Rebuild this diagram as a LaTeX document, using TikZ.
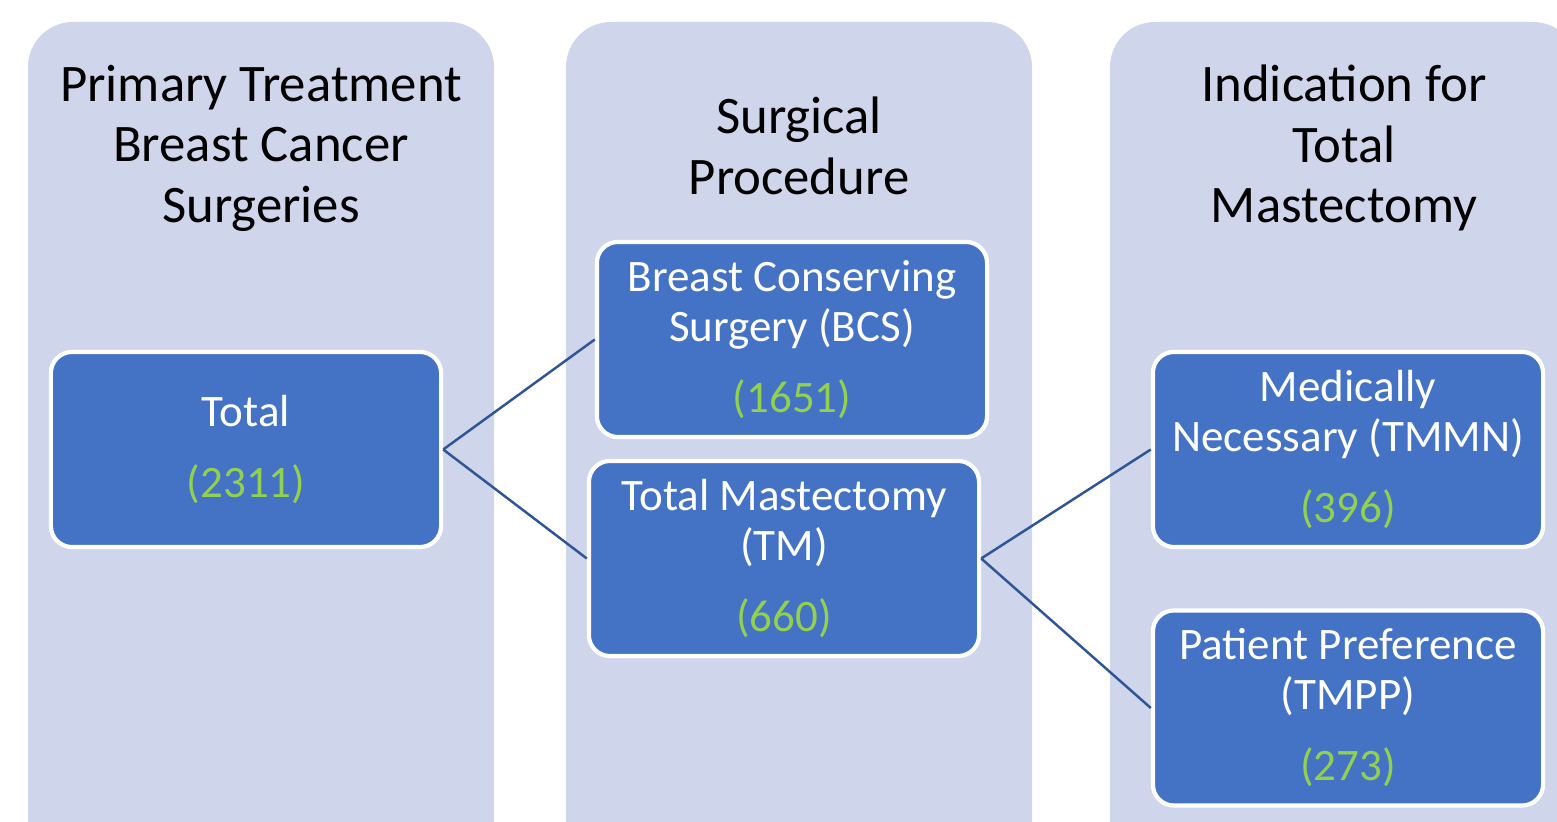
\documentclass[tikz,border=0pt]{standalone}
\usepackage{fontspec}
\setmainfont{Carlito}
\definecolor{lav}{HTML}{CFD5EA}
\definecolor{boxblue}{HTML}{4472C4}
\definecolor{linkblue}{HTML}{2F5597}
\definecolor{numgreen}{HTML}{92D050}
\newcommand{\num}[1]{\\[6pt]\textcolor{numgreen}{#1}}
\tikzset{
  column/.style={fill=lav, rounded corners=0.45cm},
  stagebox/.style={rectangle, rounded corners=6pt, draw=white, line width=1.2pt,
    fill=boxblue, text=white, align=center, font=\fontsize{12.8}{14.2}\selectfont,
    minimum width=3.9cm, minimum height=1.95cm, inner sep=2pt},
  heading/.style={align=center, font=\fontsize{15}{17.2}\selectfont},
  link/.style={draw=linkblue, line width=0.7pt}
}
\begin{document}
\begin{tikzpicture}[x=0.01cm, y=-0.01cm]
	\clip (0,0) rectangle (1557,822);
	\useasboundingbox (0,0) rectangle (1557,822);
	% columns
	\fill[column] (28,880) rectangle (494,22);
	\fill[column] (566,880) rectangle (1032,22);
	\fill[column] (1110,880) rectangle (1578,22);
	% headings
	\node[heading] (h1) at (261,148) {Primary Treatment\\Breast Cancer\\Surgeries};
	\node[heading] (h2) at (799,146) {Surgical\\Procedure};
	\node[heading] (h3) at (1344,148) {Indication for\\Total\\Mastectomy};
	% boxes
	\node[stagebox] (total) at (246,449.5) {Total\num{(2311)}};
	\node[stagebox] (bcs) at (792,339.5) {Breast Conserving\\Surgery (BCS)\num{(1651)}};
	\node[stagebox] (tm) at (784,558.5) {Total Mastectomy\\(TM)\num{(660)}};
	\node[stagebox] (tmmn) at (1348,449.5) {Medically\\Necessary (TMMN)\num{(396)}};
	\node[stagebox] (tmpp) at (1348,708) {Patient Preference\\(TMPP)\num{(273)}};
	% links
	\draw[link] (total.east) -- (bcs.west);
	\draw[link] (total.east) -- (tm.west);
	\draw[link] (tm.east) -- (tmmn.west);
	\draw[link] (tm.east) -- (tmpp.west);
\end{tikzpicture}
\end{document}
